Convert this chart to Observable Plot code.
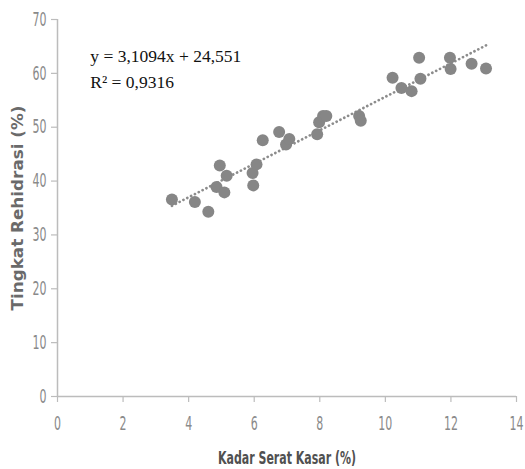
<!DOCTYPE html>
<html>
<head>
<meta charset="utf-8">
<script src="https://cdn.jsdelivr.net/npm/d3@7"></script>
<script src="https://cdn.jsdelivr.net/npm/@observablehq/plot@0.6"></script>
<style>
  html, body { margin: 0; padding: 0; background: #fff; }
</style>
</head>
<body>
<div id="chart"></div>
<script>
// Data
const kadarSerat = [3.49, 4.19, 4.60, 4.85, 4.95, 5.09, 5.16, 5.97, 5.95, 6.07, 6.26, 6.76, 6.97, 7.07,
  7.92, 7.98, 8.10, 8.20, 9.20, 9.25, 10.22, 10.49, 10.80, 11.03, 11.07, 11.97, 11.99, 12.63, 13.07];
const rehidrasi = [36.6, 36.1, 34.3, 38.9, 42.9, 37.9, 41.0, 39.2, 41.5, 43.1, 47.6, 49.1, 46.8, 47.8,
  48.7, 50.9, 52.1, 52.1, 52.1, 51.2, 59.2, 57.3, 56.7, 62.9, 59.0, 62.9, 60.8, 61.8, 60.9];
const slope = 3.1094;
const intercept = 24.551;
const eqLines = ["y = 3,1094x + 24,551", "R² = 0,9316"];
const xTicks = [0, 2, 4, 6, 8, 10, 12, 14];
const yTicks = [0, 10, 20, 30, 40, 50, 60, 70];
const xTitle = "Kadar Serat Kasar (%)";
const yTitle = "Tingkat Rehidrasi (%)";

const points = kadarSerat.map((x, i) => ({x, y: rehidrasi[i]}));
const xMin = d3.min(kadarSerat), xMax = d3.max(kadarSerat);
const trend = [xMin, xMax].map(x => ({x, y: slope * x + intercept}));

const axisColor = "#bcbcbc";
const tickText = "#8a8a8a";
const narrow = "'DejaVu Sans Condensed', 'Liberation Sans Narrow', sans-serif";

const chart = Plot.plot({
  width: 525,
  height: 469,
  marginLeft: 57,
  marginRight: 9,
  marginTop: 19,
  marginBottom: 73,
  style: {fontFamily: narrow, background: "#fff"},
  x: {domain: [0, 14]},
  y: {domain: [0, 70]},
  marks: [
    Plot.ruleX([0], {y1: 0, y2: 70, stroke: axisColor, strokeWidth: 1.5}),
    Plot.ruleY([0], {x1: 0, x2: 14, stroke: axisColor, strokeWidth: 1.5}),
    Plot.axisY(yTicks, {tickSize: 6, tickPadding: 5, stroke: axisColor, strokeWidth: 1.2,
      fill: tickText, fontSize: 19.5, fontWeight: 300, fontFamily: narrow, label: null}),
    Plot.axisX(xTicks, {tickSize: 6, tickPadding: 14, stroke: axisColor, strokeWidth: 1.2,
      fill: tickText, fontSize: 19.5, fontWeight: 300, fontFamily: narrow, label: null}),
    Plot.line(trend, {x: "x", y: "y", stroke: "#8c8c8c", strokeWidth: 2.7,
      strokeDasharray: "0.1 4.2", strokeLinecap: "round"}),
    Plot.dot(points, {x: "x", y: "y", r: 6, fill: "#868686", stroke: "none"}),
    Plot.text([eqLines.join("\n")], {x: 1.0, y: 65.6, text: d => d, textAnchor: "start",
      lineAnchor: "top", fontFamily: "'Liberation Serif', 'Times New Roman', serif",
      fontSize: 17.5, lineHeight: 1.5, fill: "#111", letterSpacing: "-0.45px"}),
    Plot.text([xTitle], {frameAnchor: "bottom", dy: 62, text: d => d, textAnchor: "middle",
      lineAnchor: "middle", fontSize: 18.5, fontWeight: "bold", fontFamily: narrow, fill: "#505050"}),
    Plot.text([yTitle], {frameAnchor: "left", dx: -39, rotate: -90, text: d => d,
      textAnchor: "middle", lineAnchor: "middle", fontSize: 15, fontWeight: "bold",
      fontFamily: "'DejaVu Sans', Verdana, sans-serif", fill: "#6a6a6a"})
  ]
});
// compress titles and tick labels horizontally, like the narrow font of the reference
const sel = d3.select(chart).selectAll("text");
sel.filter(function() { return this.textContent === xTitle; })
  .attr("textLength", 138).attr("lengthAdjust", "spacingAndGlyphs");
sel.filter(function() { return this.textContent === yTitle; })
  .attr("textLength", 205).attr("lengthAdjust", "spacingAndGlyphs");
d3.select(chart).selectAll("g[aria-label='x-axis tick label'] text, g[aria-label='y-axis tick label'] text")
  .each(function() {
    const n = this.textContent.length;
    d3.select(this).attr("textLength", n * 7.0).attr("lengthAdjust", "spacingAndGlyphs");
  });
document.getElementById("chart").appendChild(chart);
</script>
</body>
</html>
